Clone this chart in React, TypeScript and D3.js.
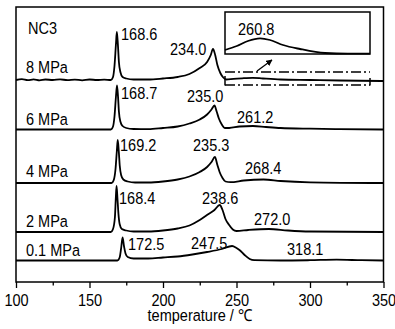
import React, { useEffect, useRef } from "react";
import * as d3 from "d3";

// DSC curves: [temperature (°C), heat flow above baseline (a.u.)]
const curve8MPa: [number, number][] = [
  [100, 0], [104, 0.8], [108, -0.2], [112, 0.6], [116, -0.4], [120, 0.5], [125, 0], [130, 0.7],
  [135, -0.2], [140, 0.4], [145, -0.3], [150, 0.5], [155, 0], [160, 0.4], [164.5, 0],
  [166, 3], [167, 14], [168, 36], [168.6, 48], [169.3, 36], [170, 18], [171, 8], [172.5, 3],
  [175, 1.5], [180, 0.5], [190, 0.5], [200, 1.5], [210, 3], [218, 6], [225, 12], [230, 18],
  [232.5, 25], [234, 31], [235.5, 25], [237, 15], [239, 7], [241, 2.5], [243, 0.5],
  [248, 1.2], [255, 1.8], [261, 2.2], [268, 1.5], [280, 0.5], [300, 0], [320, -0.5], [350, -1],
];
const curve6MPa: [number, number][] = [
  [100, 0], [130, 0], [160, 0], [164.5, 0], [166, 3], [167, 13], [168, 33], [168.7, 44],
  [169.4, 33], [170, 18], [171, 8], [172.5, 3.5], [175, 1.5], [180, 0.5], [190, 0.3],
  [200, 1.5], [210, 3], [218, 6], [225, 10], [230, 15], [233, 20], [235, 24], [236.5, 18],
  [238, 11], [240, 5], [242, 1.5], [245, 1.5], [252, 3], [261.2, 3.5], [270, 2.5],
  [280, 1.5], [300, 0.8], [320, 0.4], [350, 0],
];
const curve4MPa: [number, number][] = [
  [100, 0], [130, 0], [160, 0], [165, 0], [166.5, 3], [167.7, 14], [168.6, 32], [169.2, 43],
  [169.9, 32], [170.6, 17], [171.5, 8], [173, 3.5], [176, 1.5], [181, 0.5], [190, 0.5],
  [200, 1.5], [210, 3.5], [218, 6.5], [225, 11], [230, 16], [233, 21], [235.3, 26],
  [237, 18], [238.5, 11], [240.5, 5], [242.5, 1.5], [246, 0.8], [255, 2.5], [268.4, 3.5],
  [280, 2], [300, 0.7], [350, 0],
];
const curve2MPa: [number, number][] = [
  [100, 0], [130, 0], [160, 0], [164.5, 0], [166, 3], [167.3, 15], [167.9, 34], [168.4, 46],
  [169, 34], [169.7, 18], [170.5, 8], [172, 3], [175, 1.5], [180, 0.5], [190, 0.5],
  [200, 1.5], [210, 3.5], [218, 6.5], [225, 12], [231, 18], [235, 22], [238.6, 27],
  [240.5, 22], [242.5, 13], [245, 7], [247.5, 2.5], [250, 1], [258, 2], [272, 3],
  [285, 1.5], [300, 0.5], [350, 0],
];
const curve01MPa: [number, number][] = [
  [100, 0], [130, 0], [165, 0], [169, 0], [170.5, 3], [171.5, 12], [172.5, 23], [173.5, 14],
  [174.5, 7], [176, 3.5], [180, 2], [190, 2], [200, 3], [210, 4], [220, 6], [230, 8.5],
  [240, 11.5], [247, 14.5], [250, 12.5], [252, 10.5], [255.5, 5.5], [259, 1.5], [262, 0.3],
  [280, 0], [300, 0.3], [318.1, 0.8], [335, 0.3], [350, 0],
];

// Inset: magnified 8 MPa curve above 242 °C
const insetCurve: [number, number][] = [
  [242, 1.0], [250, 2.0], [257.5, 3.25], [265.7, 3.9], [272.4, 3.5], [281.2, 2.25],
  [292.7, 1.25], [309.6, 0.25], [325, 0.1], [340, 0.1],
];

const curves = [curve8MPa, curve6MPa, curve4MPa, curve2MPa, curve01MPa];
const baselines = [202, 152.5, 99, 50, 21.5];
const pressureLabels = ["8 MPa", "6 MPa", "4 MPa", "2 MPa", "0.1 MPa"];
const pressureLabelPos: [number, number][] = [[26, 73], [26, 125], [26, 177], [26, 227], [26, 256]];

const peakLabels: [string, number, number][] = [
  ["168.6", 121, 40], ["234.0", 170, 55],
  ["168.7", 121, 99], ["235.0", 187, 102], ["261.2", 237, 123],
  ["169.2", 120, 151], ["235.3", 193, 151], ["268.4", 245, 174],
  ["168.4", 119, 204], ["238.6", 202, 204], ["272.0", 254, 225],
  ["172.5", 128, 250], ["247.5", 191, 249], ["318.1", 287, 255],
  ["260.8", 238, 35],
];

const majorTicks = [100, 150, 200, 250, 300, 350];
const minorTicks = [125, 175, 225, 275, 325];

const FONT = "'Liberation Sans', Arial, sans-serif";
const FS = "16.5px";
const SQUEEZE = 0.88; // the original type is a bit condensed

const App = () => {
  const ref = useRef<SVGSVGElement>(null);

  useEffect(() => {
    const svg = d3.select(ref.current);
    svg.selectAll("*").remove();

    const left = 16, right = 383.5, top = 7, bottom = 282;

    const x = d3.scaleLinear().domain([100, 350]).range([left, right]);
    const y = d3.scaleLinear().domain([0, 275]).range([bottom, top]);

    const label = (t: string, px: number, py: number, anchor = "start") =>
      svg.append("text")
        .attr("transform", `translate(${px},${py}) scale(${SQUEEZE},1)`)
        .attr("text-anchor", anchor)
        .style("font-size", FS).style("font-family", FONT)
        .text(t);

    // frame
    svg.append("rect")
      .attr("x", left).attr("y", top)
      .attr("width", right - left).attr("height", bottom - top)
      .attr("fill", "none").attr("stroke", "#000").attr("stroke-width", 1.5);

    // curves
    curves.forEach((c, i) => {
      const line = d3.line<[number, number]>()
        .x(d => x(d[0]))
        .y(d => y(baselines[i] + d[1]))
        .curve(d3.curveMonotoneX);
      svg.append("path")
        .attr("d", line(c))
        .attr("fill", "none")
        .attr("stroke", "#000")
        .attr("stroke-width", 1.8)
        .attr("stroke-linejoin", "round");
    });

    // x axis
    const axisG = svg.append("g").attr("transform", `translate(0, ${bottom})`);
    axisG.call(d3.axisBottom(x).tickValues(majorTicks).tickSize(6).tickSizeOuter(0).tickFormat(d3.format("d")));
    axisG.select(".domain").remove();
    axisG.selectAll("line").attr("stroke-width", 1.3);
    axisG.selectAll("text")
      .attr("y", 0).attr("dy", null)
      .attr("transform", `translate(0, 23.5) scale(${SQUEEZE},1)`)
      .style("font-size", FS)
      .style("font-family", FONT)
      .style("fill", "#000");

    const minorG = svg.append("g").attr("transform", `translate(0, ${bottom})`);
    minorG.call(d3.axisBottom(x).tickValues(minorTicks).tickSize(3.5).tickSizeOuter(0).tickFormat(() => ""));
    minorG.select(".domain").remove();
    minorG.selectAll("line").attr("stroke-width", 1.3);

    label("temperature / ℃", (left + right) / 2, 320.5, "middle");

    // labels
    label("NC3", 28, 34);
    pressureLabels.forEach((t, i) => label(t, pressureLabelPos[i][0], pressureLabelPos[i][1]));
    peakLabels.forEach(([t, px, py]) => label(t, px, py));

    // inset
    const ix = d3.scaleLinear().domain([242, 340]).range([225, 370]);
    const iy = d3.scaleLinear().domain([0, 10]).range([54, 14]);
    svg.append("rect")
      .attr("x", 225).attr("y", 12).attr("width", 145).attr("height", 42)
      .attr("fill", "none").attr("stroke", "#000").attr("stroke-width", 1.5);
    svg.append("path")
      .attr("d", d3.line<[number, number]>().x(d => ix(d[0])).y(d => iy(d[1])).curve(d3.curveMonotoneX)(insetCurve))
      .attr("fill", "none").attr("stroke", "#000").attr("stroke-width", 1.8);

    // magnified region marker (dash-dot)
    [72, 85].forEach(yy => {
      svg.append("line")
        .attr("x1", 225).attr("x2", 370).attr("y1", yy).attr("y2", yy)
        .attr("stroke", "#000").attr("stroke-width", 1.6)
        .attr("stroke-dasharray", "10,3,2,3");
    });
    [[225, 76], [370, 78]].forEach(([xx, y1]) => {
      svg.append("line")
        .attr("x1", xx).attr("x2", xx).attr("y1", y1).attr("y2", 85.5)
        .attr("stroke", "#000").attr("stroke-width", 1.5);
    });

    // arrow
    const defs = svg.append("defs");
    defs.append("marker")
      .attr("id", "arrowhead")
      .attr("viewBox", "0 0 10 10")
      .attr("refX", 9).attr("refY", 5)
      .attr("markerWidth", 5).attr("markerHeight", 5)
      .attr("orient", "auto")
      .append("path").attr("d", "M0,0 L10,5 L0,10 z").attr("fill", "#000");
    svg.append("line")
      .attr("x1", 257).attr("y1", 71).attr("x2", 272).attr("y2", 60)
      .attr("stroke", "#000").attr("stroke-width", 1.3)
      .attr("marker-end", "url(#arrowhead)");
  }, []);

  return (
    <svg
      ref={ref}
      width={395}
      height={329}
      style={{ position: "absolute", left: 0, top: 0, background: "#fff" }}
    />
  );
};

export default App;
